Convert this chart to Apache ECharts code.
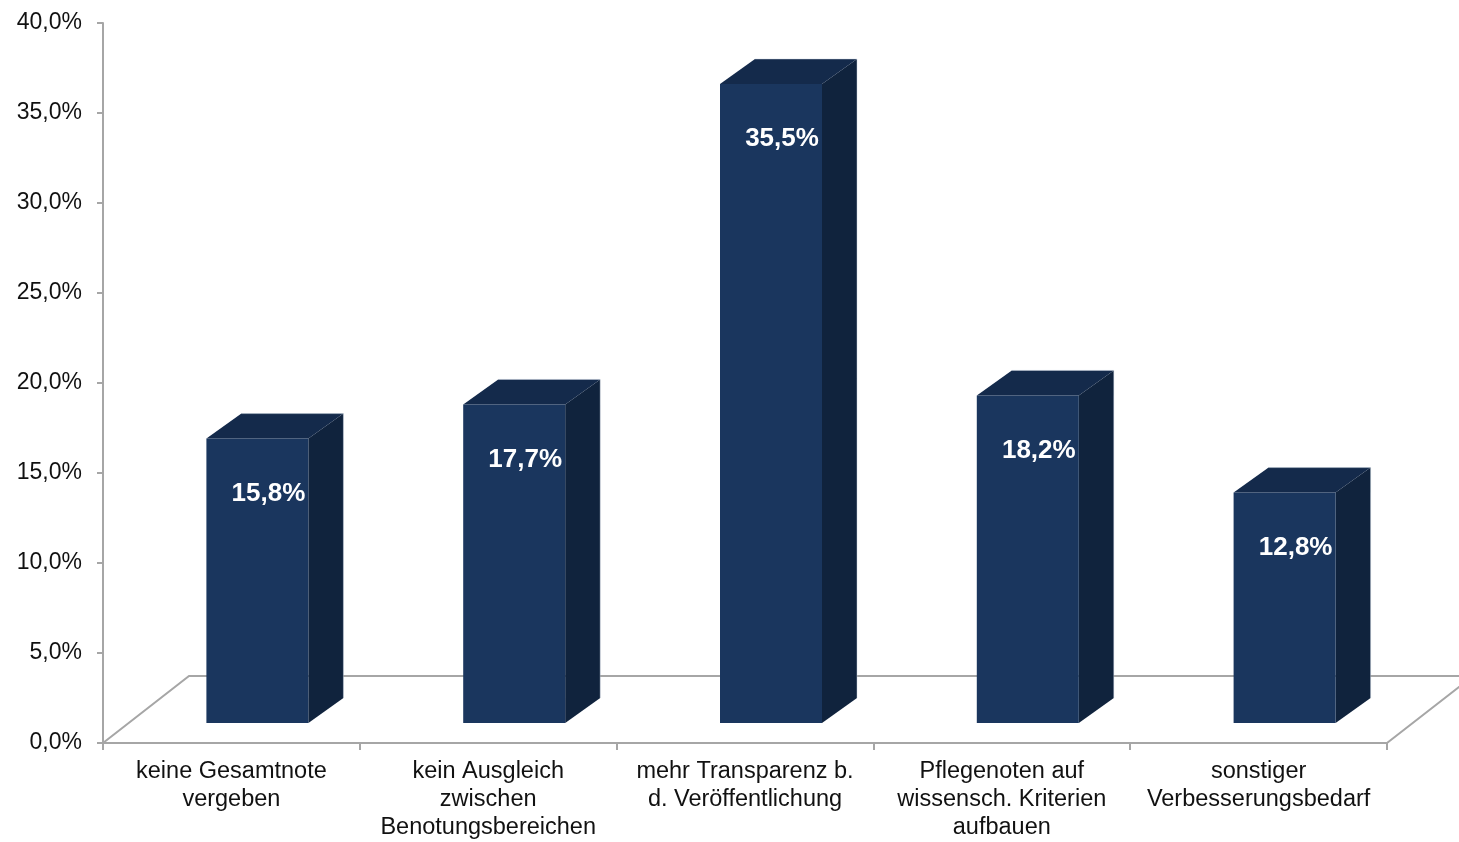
<!DOCTYPE html>
<html>
<head>
<meta charset="utf-8">
<script src="https://cdn.jsdelivr.net/npm/echarts@6/dist/echarts.min.js"></script>
<style>html,body{margin:0;padding:0;background:#fff;overflow:hidden;}#c{width:1459px;height:842px;}</style>
</head>
<body>
<div id="c"></div>
<script>
const categories = [
  'keine Gesamtnote\nvergeben',
  'kein Ausgleich\nzwischen\nBenotungsbereichen',
  'mehr Transparenz b.\nd. Veröffentlichung',
  'Pflegenoten auf\nwissensch. Kriterien\naufbauen',
  'sonstiger\nVerbesserungsbedarf'
];
const values = [15.8, 17.7, 35.5, 18.2, 12.8];
const yMin = 0, yMax = 40, yInterval = 5;

const fmt = v => v.toFixed(1).replace('.', ',') + '%';
const chart = echarts.init(document.getElementById('c'), null, {renderer: 'canvas'});

const FRONT = '#1a365e', TOP = '#142a4b', SIDE = '#10233d';
const W = 102, OFFX = 26, OFFY = -20, DX = 35, DY = -25;
const FLOOR_DX = 86, FLOOR_DY = -67;
const FONT = 'Liberation Sans, Arial, sans-serif';

chart.setOption({
  animation: false,
  grid: {left: 103, right: 72, top: 23, bottom: 93, containLabel: false},
  xAxis: {
    type: 'category',
    data: categories,
    axisLine: {lineStyle: {color: '#a6a6a6', width: 2}},
    axisTick: {show: true, length: 7, lineStyle: {color: '#a6a6a6', width: 2}},
    axisLabel: {color: '#111', fontFamily: FONT, fontSize: 23.5, lineHeight: 28, margin: 15, interval: 0}
  },
  yAxis: {
    type: 'value', min: yMin, max: yMax, interval: yInterval,
    axisLine: {show: true, lineStyle: {color: '#a6a6a6', width: 2}},
    axisTick: {show: true, length: 6, lineStyle: {color: '#a6a6a6', width: 2}},
    splitLine: {show: false},
    axisLabel: {color: '#111', fontFamily: FONT, fontSize: 23, margin: 21,
      formatter: v => fmt(v)}
  },
  series: [
    {
      type: 'custom', z: 1, silent: true,
      data: [[0, 0]],
      renderItem: function (params, api) {
        const cs = params.coordSys;
        const x0 = cs.x, x1 = cs.x + cs.width, yb = cs.y + cs.height;
        return {
          type: 'polyline',
          shape: {points: [[x0, yb], [x0 + FLOOR_DX, yb + FLOOR_DY], [x1 + FLOOR_DX, yb + FLOOR_DY], [x1, yb]]},
          style: {stroke: '#a6a6a6', lineWidth: 2, fill: null}
        };
      }
    },
    {
      type: 'custom', z: 5,
      data: values.map((v, i) => [i, v]),
      renderItem: function (params, api) {
        const c = api.coord([api.value(0), api.value(1)]);
        const b = api.coord([api.value(0), 0]);
        const cx = c[0] + OFFX;
        const x0 = cx - W / 2, x1 = cx + W / 2;
        const top = c[1] + OFFY, bot = b[1] + OFFY;
        return {
          type: 'group',
          children: [
            {type: 'polygon', shape: {points: [[x1, top], [x1 + DX, top + DY], [x1 + DX, bot + DY], [x1, bot]]},
              style: {fill: SIDE}},
            {type: 'polygon', shape: {points: [[x0, top], [x1, top], [x1 + DX, top + DY], [x0 + DX, top + DY]]},
              style: {fill: TOP}},
            {type: 'polyline', shape: {points: [[x0 + DX, top + DY], [x1 + DX, top + DY], [x1 + DX, bot + DY]]},
              style: {stroke: 'rgba(200,210,225,0.45)', lineWidth: 1, fill: null}},
            {type: 'rect', shape: {x: x0, y: top, width: W, height: bot - top},
              style: {fill: FRONT}},
            {type: 'text', x: cx + 11, y: top + 55,
              style: {text: fmt(api.value(1)), fill: '#fff', fontSize: 26, fontWeight: 'bold',
                fontFamily: FONT, align: 'center', verticalAlign: 'middle'}}
          ]
        };
      }
    }
  ]
});
</script>
</body>
</html>
